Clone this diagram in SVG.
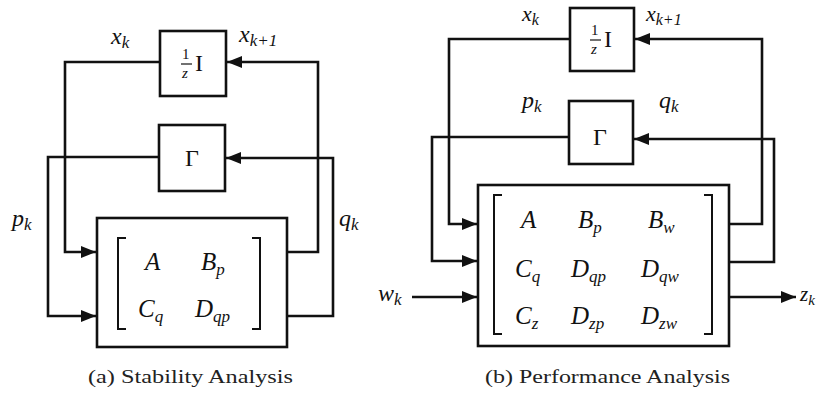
<svg xmlns="http://www.w3.org/2000/svg" width="822" height="397" viewBox="0 0 822 397">
<style>
.bx{fill:#fff;stroke:#111;stroke-width:2.6}
.ln{fill:none;stroke:#111;stroke-width:2.6}
.br{fill:none;stroke:#111;stroke-width:2}
.m{font-family:"Liberation Serif","DejaVu Serif",serif;font-style:italic;font-size:25px;fill:#111}
.lb{font-family:"Liberation Serif","DejaVu Serif",serif;font-style:italic;font-size:24px;fill:#111}
.up{font-family:"Liberation Serif","DejaVu Serif",serif;font-size:23px;fill:#111}
.cap{font-family:"Liberation Serif","DejaVu Serif",serif;font-size:19px;fill:#222}
.s{font-size:17px}
</style>
<defs>
<marker id="ah" markerUnits="userSpaceOnUse" markerWidth="16" markerHeight="12" refX="15" refY="6" orient="auto">
<path d="M0,0 L15,6 L0,12 z" fill="#111"/>
</marker>
</defs>
<rect width="822" height="397" fill="#fff"/>

<g id="connectors">
<path class="ln" d="M160,62 H65 V252 H96" marker-end="url(#ah)"/>
<path class="ln" d="M287,252 H318 V62 H227" marker-end="url(#ah)"/>
<path class="ln" d="M159,157 H48 V316 H96" marker-end="url(#ah)"/>
<path class="ln" d="M287,316 H333 V158 H226" marker-end="url(#ah)"/>
<path class="ln" d="M570,39 H449 V224 H477" marker-end="url(#ah)"/>
<path class="ln" d="M729,224 H762 V39 H635" marker-end="url(#ah)"/>
<path class="ln" d="M569,137 H432 V261 H477" marker-end="url(#ah)"/>
<path class="ln" d="M729,262 H774 V139 H634" marker-end="url(#ah)"/>
<path class="ln" d="M412,297 H477" marker-end="url(#ah)"/>
<path class="ln" d="M729,297 H796" marker-end="url(#ah)"/>
</g>

<g id="a-delay">
<rect class="bx" x="160" y="31" width="66" height="65"/>
<text class="up" x="182" y="59" style="font-size:15px">1</text>
<line x1="181" y1="64" x2="192" y2="64" stroke="#111" stroke-width="1.2"/>
<text class="lb" x="182" y="78" style="font-size:15px">z</text>
<text class="up" x="195" y="71" style="font-size:24px">I</text>
</g>
<g id="a-gamma">
<rect class="bx" x="159" y="125" width="66" height="66"/>
<text class="up" x="192" y="166" text-anchor="middle" style="font-size:24px">Γ</text>
</g>
<g id="a-plant">
<rect class="bx" x="97" y="218" width="190" height="129"/>
<path class="br" d="M126,238 H118 V329 H126"/>
<path class="br" d="M252,238 H260 V329 H252"/>
<text class="m" x="145" y="270">A</text>
<text class="m" x="201" y="270">B<tspan class="s" dy="5">p</tspan></text>
<text class="m" x="138" y="317">C<tspan class="s" dy="5">q</tspan></text>
<text class="m" x="195" y="317">D<tspan class="s" dy="5">qp</tspan></text>
</g>
<g id="a-labels">
<text class="lb" x="111" y="44">x<tspan class="s" dy="4">k</tspan></text>
<text class="lb" x="239" y="42">x<tspan class="s" dy="4">k+1</tspan></text>
<text class="lb" x="12" y="226">p<tspan class="s" dy="4">k</tspan></text>
<text class="lb" x="339" y="226">q<tspan class="s" dy="4">k</tspan></text>
<text class="cap" x="88" y="383" textLength="205" lengthAdjust="spacingAndGlyphs">(a) Stability Analysis</text>
</g>

<g id="b-delay">
<rect class="bx" x="570" y="8" width="64" height="63"/>
<text class="up" x="591" y="35" style="font-size:15px">1</text>
<line x1="590" y1="40" x2="601" y2="40" stroke="#111" stroke-width="1.2"/>
<text class="lb" x="591" y="54" style="font-size:15px">z</text>
<text class="up" x="604" y="47" style="font-size:24px">I</text>
</g>
<g id="b-gamma">
<rect class="bx" x="569" y="101" width="64" height="63"/>
<text class="up" x="600" y="145" text-anchor="middle" style="font-size:24px">Γ</text>
</g>
<g id="b-plant">
<rect class="bx" x="478" y="185" width="251" height="161"/>
<path class="br" d="M502,195 H494 V334 H502"/>
<path class="br" d="M704,195 H712 V334 H704"/>
<text class="m" x="521" y="228">A</text>
<text class="m" x="578" y="228">B<tspan class="s" dy="5">p</tspan></text>
<text class="m" x="648" y="228">B<tspan class="s" dy="5">w</tspan></text>
<text class="m" x="515" y="277">C<tspan class="s" dy="5">q</tspan></text>
<text class="m" x="571" y="277">D<tspan class="s" dy="5">qp</tspan></text>
<text class="m" x="641" y="277">D<tspan class="s" dy="5">qw</tspan></text>
<text class="m" x="515" y="324">C<tspan class="s" dy="5">z</tspan></text>
<text class="m" x="571" y="324">D<tspan class="s" dy="5">zp</tspan></text>
<text class="m" x="641" y="324">D<tspan class="s" dy="5">zw</tspan></text>
</g>
<g id="b-labels">
<text class="lb" x="522" y="21" style="font-size:22px">x<tspan class="s" dy="4" style="font-size:16px">k</tspan></text>
<text class="lb" x="646" y="21" style="font-size:22px">x<tspan class="s" dy="4" style="font-size:16px">k+1</tspan></text>
<text class="lb" x="522" y="108">p<tspan class="s" dy="4">k</tspan></text>
<text class="lb" x="659" y="108">q<tspan class="s" dy="4">k</tspan></text>
<text class="lb" x="378" y="301">w<tspan class="s" dy="4">k</tspan></text>
<text class="lb" x="800" y="301" style="font-size:21px">z<tspan class="s" dy="4" style="font-size:15px">k</tspan></text>
<text class="cap" x="485" y="383" textLength="245" lengthAdjust="spacingAndGlyphs">(b) Performance Analysis</text>
</g>
</svg>
